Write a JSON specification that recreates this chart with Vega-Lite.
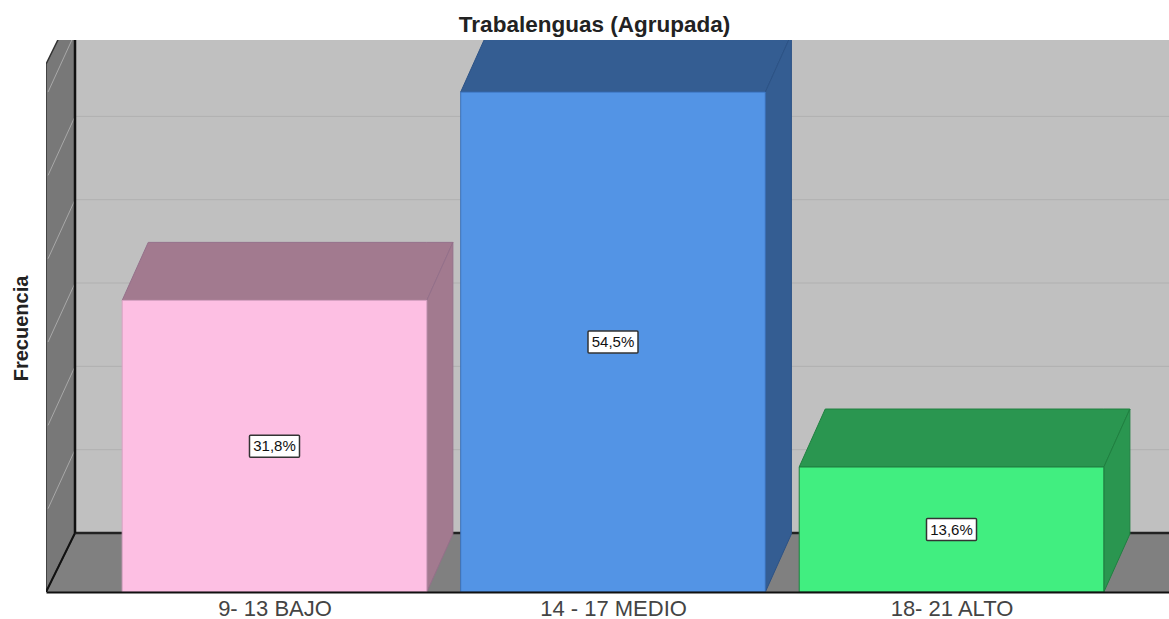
{
"$schema":"https://vega.github.io/schema/vega-lite/v6.json",
"width":1123,"height":552,
"autosize":{"type":"none"},
"padding":{"left":46,"top":40,"right":0,"bottom":27},
"background":"white",
"config":{"view":{"stroke":null},"font":"Liberation Sans"},
"title":{"text":"Trabalenguas (Agrupada)","fontSize":22.5,"fontWeight":"bold","font":"Liberation Sans","color":"#222222","anchor":"middle","dx":-13,"offset":4},
"resolve":{"scale":{"fill":"independent","stroke":"independent"}},
"datasets":{
"barras":[
{"categoria":"9- 13 BAJO","pos":1,"frecuencia":7,"mitad":3.5,"porcentaje":"31,8%"},
{"categoria":"14 - 17 MEDIO","pos":2,"frecuencia":12,"mitad":6,"porcentaje":"54,5%"},
{"categoria":"18- 21 ALTO","pos":3,"frecuencia":3,"mitad":1.5,"porcentaje":"13,6%"}],
"caras":[
{"categoria":"9- 13 BAJO","cara":"tapa","pos":0.55,"base":7,"tope":7},
{"categoria":"9- 13 BAJO","cara":"tapa","pos":0.627,"base":7,"tope":8.392},
{"categoria":"9- 13 BAJO","cara":"tapa","pos":1.45,"base":7,"tope":8.392},
{"categoria":"9- 13 BAJO","cara":"tapa","pos":1.527,"base":8.392,"tope":8.392},
{"categoria":"9- 13 BAJO","cara":"lado","pos":1.45,"base":0,"tope":7},
{"categoria":"9- 13 BAJO","cara":"lado","pos":1.527,"base":1.392,"tope":8.392},
{"categoria":"14 - 17 MEDIO","cara":"tapa","pos":1.55,"base":12,"tope":12},
{"categoria":"14 - 17 MEDIO","cara":"tapa","pos":1.627,"base":12,"tope":13.392},
{"categoria":"14 - 17 MEDIO","cara":"tapa","pos":2.45,"base":12,"tope":13.392},
{"categoria":"14 - 17 MEDIO","cara":"tapa","pos":2.527,"base":13.392,"tope":13.392},
{"categoria":"14 - 17 MEDIO","cara":"lado","pos":2.45,"base":0,"tope":12},
{"categoria":"14 - 17 MEDIO","cara":"lado","pos":2.527,"base":1.392,"tope":13.392},
{"categoria":"18- 21 ALTO","cara":"tapa","pos":2.55,"base":3,"tope":3},
{"categoria":"18- 21 ALTO","cara":"tapa","pos":2.627,"base":3,"tope":4.392},
{"categoria":"18- 21 ALTO","cara":"tapa","pos":3.45,"base":3,"tope":4.392},
{"categoria":"18- 21 ALTO","cara":"tapa","pos":3.527,"base":4.392,"tope":4.392},
{"categoria":"18- 21 ALTO","cara":"lado","pos":3.45,"base":0,"tope":3},
{"categoria":"18- 21 ALTO","cara":"lado","pos":3.527,"base":1.392,"tope":4.392}],
"lineasMuro":[
{"nivel":2,"pos":0.331,"base":2},{"nivel":2,"pos":0.4107,"base":3.416},
{"nivel":4,"pos":0.331,"base":4},{"nivel":4,"pos":0.4107,"base":5.416},
{"nivel":6,"pos":0.331,"base":6},{"nivel":6,"pos":0.4107,"base":7.416},
{"nivel":8,"pos":0.331,"base":8},{"nivel":8,"pos":0.4107,"base":9.416},
{"nivel":10,"pos":0.331,"base":10},{"nivel":10,"pos":0.4107,"base":11.416},
{"nivel":12,"pos":0.331,"base":12},{"nivel":12,"pos":0.4107,"base":13.416}],
"lineasFondo":[
{"pos":0.4107,"fin":3.6425,"base":3.416},
{"pos":0.4107,"fin":3.6425,"base":5.416},
{"pos":0.4107,"fin":3.6425,"base":7.416},
{"pos":0.4107,"fin":3.6425,"base":9.416},
{"pos":0.4107,"fin":3.6425,"base":11.416}]
},
"encoding":{
"x":{"field":"pos","type":"quantitative","scale":{"domain":[0.325,3.6425],"nice":false,"zero":false,"padding":0},
"axis":{"values":[1,2,3],"labelExpr":"datum.value==1?'9- 13 BAJO':datum.value==2?'14 - 17 MEDIO':'18- 21 ALTO'","title":null,"grid":false,"ticks":false,"domainColor":"#111111","domainWidth":2,"labelFontSize":22,"labelColor":"#444444","labelFont":"Liberation Sans","labelPadding":6,"labelOverlap":false,"labelFlush":false,"zindex":1}},
"y":{"field":"base","type":"quantitative","stack":null,"scale":{"domain":[0,13.25],"nice":false,"zero":false},
"axis":{"title":"Frecuencia","labels":false,"ticks":false,"grid":false,"domain":false,"titleFontSize":20,"titleFontWeight":"bold","titleFont":"Liberation Sans","titleColor":"#222222","titleX":-15,"titleY":288}}
},
"layer":[
{"data":{"values":[{"pos":0.4107,"fin":3.6425,"base":1.416,"tope":13.25}]},
 "mark":{"type":"rect","fill":"#c0c0c0","clip":true},
 "encoding":{"x2":{"field":"fin"},"y2":{"field":"tope"}}},
{"data":{"name":"lineasFondo"},
 "mark":{"type":"rule","stroke":"#b0b0b0","strokeWidth":1},
 "encoding":{"x2":{"field":"fin"}}},
{"data":{"values":[{"pos":0.325,"base":0,"tope":0},{"pos":0.4107,"base":0,"tope":1.416},{"pos":3.6425,"base":0,"tope":1.416}]},
 "mark":{"type":"area","fill":"#808080","clip":true},
 "encoding":{"y2":{"field":"tope"}}},
{"data":{"values":[{"pos":0.325,"base":0,"tope":12.67},{"pos":0.4107,"base":1.416,"tope":14.086}]},
 "mark":{"type":"area","fill":"#787878","stroke":"#333333","strokeWidth":1.5,"clip":true},
 "encoding":{"y2":{"field":"tope"}}},
{"data":{"name":"lineasMuro"},
 "mark":{"type":"line","stroke":"#a8a8a8","strokeWidth":1,"clip":true},
 "encoding":{"detail":{"field":"nivel"}}},
{"data":{"values":[{"pos":0.325,"base":0},{"pos":0.4107,"base":1.416}]},
 "mark":{"type":"line","stroke":"#111111","strokeWidth":2,"clip":true},
 "encoding":{}},
{"data":{"values":[{"pos":0.4107,"base":1.416},{"pos":3.6425,"base":1.416}]},
 "mark":{"type":"line","stroke":"#222222","strokeWidth":2.5,"clip":true},
 "encoding":{}},
{"data":{"values":[{"pos":0.4107,"base":1.416},{"pos":0.4107,"base":13.25}]},
 "mark":{"type":"line","stroke":"#111111","strokeWidth":2.5,"clip":true},
 "encoding":{}},
{"data":{"name":"caras"},
 "mark":{"type":"area","strokeWidth":1,"clip":true},
 "encoding":{
  "y2":{"field":"tope"},
  "detail":{"field":"cara"},
  "fill":{"field":"categoria","type":"nominal","legend":null,"scale":{"domain":["9- 13 BAJO","14 - 17 MEDIO","18- 21 ALTO"],"range":["#a27a8f","#345d92","#2a9650"]}},
  "stroke":{"field":"categoria","type":"nominal","legend":null,"scale":{"domain":["9- 13 BAJO","14 - 17 MEDIO","18- 21 ALTO"],"range":["#94708a","#2c5285","#1f8040"]}}}},
{"data":{"name":"barras"},
 "mark":{"type":"bar","width":304.6,"strokeWidth":1,"clip":true},
 "encoding":{
  "y":{"field":"frecuencia","type":"quantitative","scale":{"domain":[0,13.25],"nice":false,"zero":false}},
  "fill":{"field":"categoria","type":"nominal","legend":null,"scale":{"domain":["9- 13 BAJO","14 - 17 MEDIO","18- 21 ALTO"],"range":["#fdbfe3","#5394e5","#41ee80"]}},
  "stroke":{"field":"categoria","type":"nominal","legend":null,"scale":{"domain":["9- 13 BAJO","14 - 17 MEDIO","18- 21 ALTO"],"range":["#d9a3c4","#3a70b8","#1f8040"]}}}},
{"data":{"name":"barras"},
 "mark":{"type":"rect","width":50,"height":22,"fill":"white","stroke":"#333333","strokeWidth":1.5,"cornerRadius":1},
 "encoding":{"y":{"field":"mitad","type":"quantitative","scale":{"domain":[0,13.25],"nice":false,"zero":false}}}},
{"data":{"name":"barras"},
 "mark":{"type":"text","fontSize":15,"font":"Liberation Sans","color":"#111111"},
 "encoding":{"y":{"field":"mitad","type":"quantitative","scale":{"domain":[0,13.25],"nice":false,"zero":false}},"text":{"field":"porcentaje","type":"nominal"}}}
]
}
